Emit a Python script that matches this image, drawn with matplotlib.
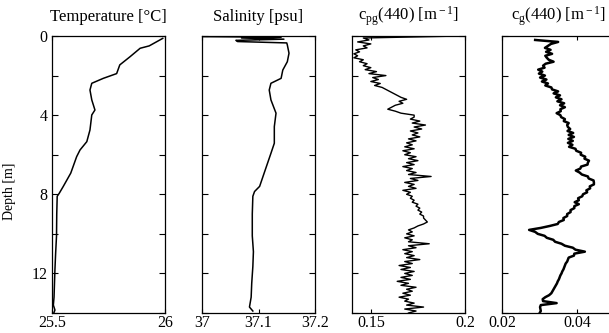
import numpy as np
import matplotlib.pyplot as plt

plt.rcParams['font.family'] = ['Liberation Serif', 'DejaVu Serif']
plt.rcParams['mathtext.fontset'] = 'custom'
plt.rcParams['mathtext.rm'] = 'Liberation Serif'
plt.rcParams['mathtext.it'] = 'Liberation Serif:italic'

# temperature profile
temp_depth = [0.12, 0.5, 0.62, 1.05, 1.46, 1.9, 2.14, 2.39, 2.73, 3.23, 3.74,
              3.99, 4.75, 5.34, 5.76, 6.1, 6.93, 7.6, 7.95, 8.1, 9.0, 10.1,
              11.0, 11.8, 12.5, 13.2, 13.6, 13.85, 14.0]
temp = [25.99, 25.93, 25.89, 25.845, 25.80, 25.786, 25.727, 25.676, 25.668,
        25.676, 25.69, 25.676, 25.668, 25.654, 25.624, 25.609, 25.583, 25.55,
        25.532, 25.523, 25.521, 25.52, 25.516, 25.513, 25.511, 25.509, 25.506,
        25.513, 25.508]

# salinity profile
sal_depth = [0.03, 0.06, 0.1, 0.16, 0.22, 0.28, 0.35, 0.45, 0.87, 1.3, 1.72,
             2.14, 2.39, 2.73, 3.23, 3.9, 4.58, 5.42, 5.93, 6.43, 6.93, 7.6,
             7.86, 8.1, 9.0, 10.1, 10.9, 11.65, 12.5, 13.2, 13.7, 13.9]
sal = [37.0, 37.14, 37.07, 37.145, 37.06, 37.063, 37.15, 37.151, 37.154,
       37.151, 37.143, 37.14, 37.122, 37.119, 37.122, 37.131, 37.128, 37.128,
       37.122, 37.116, 37.11, 37.102, 37.093, 37.09, 37.089, 37.089, 37.091,
       37.09, 37.088, 37.087, 37.084, 37.09]

# c_pg(440), every 0.1 m from 0 to 14 m
cpg_depth = np.round(np.arange(0, 141) * 0.1, 1)
cpg = [0.198, 0.146, 0.149, 0.143, 0.150, 0.146, 0.148, 0.142, 0.144, 0.141,
       0.143, 0.141, 0.146, 0.144, 0.148, 0.146, 0.150, 0.147, 0.153, 0.149,
       0.158, 0.151, 0.154, 0.150, 0.155, 0.152, 0.156, 0.158, 0.160, 0.162,
       0.164, 0.166, 0.169, 0.165, 0.167, 0.163, 0.161, 0.159, 0.163, 0.166,
       0.173, 0.173, 0.171, 0.176, 0.172, 0.179, 0.173, 0.177, 0.171, 0.175,
       0.172, 0.176, 0.170, 0.174, 0.169, 0.172, 0.168, 0.173, 0.167, 0.171,
       0.168, 0.174, 0.170, 0.175, 0.169, 0.173, 0.167, 0.172, 0.169, 0.174,
       0.170, 0.182, 0.171, 0.175, 0.168, 0.173, 0.170, 0.174, 0.167, 0.171,
       0.169, 0.172, 0.171, 0.173, 0.172, 0.175, 0.174, 0.176, 0.175, 0.177,
       0.176, 0.178, 0.178, 0.179, 0.180, 0.178, 0.175, 0.173, 0.170, 0.172,
       0.169, 0.173, 0.168, 0.172, 0.170, 0.181, 0.170, 0.174, 0.167, 0.172,
       0.168, 0.173, 0.169, 0.176, 0.168, 0.172, 0.165, 0.171, 0.166, 0.173,
       0.168, 0.172, 0.166, 0.171, 0.164, 0.170, 0.166, 0.174, 0.169, 0.172,
       0.167, 0.171, 0.165, 0.170, 0.168, 0.173, 0.169, 0.178, 0.168, 0.174,
       0.170]

# c_g(440), every 0.1 m from 0.2 to 14 m
cg_depth = np.round(np.arange(2, 141) * 0.1, 1)
cg = [0.0288, 0.0349, 0.0330, 0.0322, 0.0314, 0.0329, 0.0317, 0.0333, 0.0315,
      0.0319, 0.0324, 0.0337, 0.0316, 0.0309, 0.0313, 0.0296, 0.0307, 0.0298,
      0.0314, 0.0301, 0.0318, 0.0306, 0.0322, 0.0315, 0.0331, 0.0333, 0.0349,
      0.0337, 0.0354, 0.0343, 0.0358, 0.0347, 0.0365, 0.0354, 0.0367, 0.0355,
      0.0356, 0.0345, 0.0355, 0.0357, 0.0367, 0.0364, 0.0377, 0.0373, 0.0375,
      0.0381, 0.0374, 0.0389, 0.0377, 0.0391, 0.0376, 0.0388, 0.0375, 0.0387,
      0.0378, 0.0395, 0.0397, 0.0410, 0.0409, 0.0421, 0.0419, 0.0431, 0.0428,
      0.0427, 0.0410, 0.0408, 0.0396, 0.0406, 0.0412, 0.0428, 0.0430, 0.0443,
      0.0444, 0.0444, 0.0433, 0.0434, 0.0424, 0.0426, 0.0415, 0.0413, 0.0402,
      0.0404, 0.0393, 0.0404, 0.0392, 0.0392, 0.0382, 0.0382, 0.0373, 0.0373,
      0.0363, 0.0364, 0.0351, 0.0348, 0.0327, 0.0303, 0.0272, 0.0288, 0.0295,
      0.0313, 0.0319, 0.0336, 0.0341, 0.0358, 0.0367, 0.0388, 0.0395, 0.0420,
      0.0392, 0.0391, 0.0377, 0.0375, 0.0373, 0.0369, 0.0367, 0.0365, 0.0363,
      0.0360, 0.0358, 0.0355, 0.0353, 0.0351, 0.0348, 0.0346, 0.0343, 0.0340,
      0.0337, 0.0334, 0.0331, 0.0325, 0.0315, 0.0308, 0.0309, 0.0345, 0.0303,
      0.0301, 0.0302, 0.0303, 0.0300]

titles = ['Temperature [°C]', 'Salinity [psu]',
          r'c$_{\rm pg}$(440) [m$^{\rm -1}$]', r'c$_{\rm g}$(440) [m$^{\rm -1}$]']
xlims = [(25.5, 26), (37, 37.2), (0.14, 0.2), (0.02, 0.05)]
xticks = [[25.5, 26], [37, 37.1, 37.2], [0.15, 0.2], [0.02, 0.04]]
xticklabels = [['25.5', '26'], ['37', '37.1', '37.2'], ['0.15', '0.2'], ['0.02', '0.04']]
profiles = [(temp, temp_depth, 1.1), (sal, sal_depth, 1.1),
            (cpg, cpg_depth, 1.0), (cg, cg_depth, 1.8)]

W, H = 609, 333
lefts = [52, 202, 352, 502]
width = 113
top, bottom = 36, 313

fig = plt.figure(figsize=(W / 100, H / 100), dpi=100)
for i in range(4):
    ax = fig.add_axes([lefts[i] / W, 1 - bottom / H, width / W, (bottom - top) / H])
    x, d, lw = profiles[i]
    ax.plot(x, d, color='black', lw=lw)
    ax.set_xlim(*xlims[i])
    ax.set_ylim(14, 0)
    ax.set_yticks(np.arange(0, 15, 2))
    if i == 0:
        ax.set_yticklabels(['0', '', '4', '', '8', '', '12', ''])
        ax.set_ylabel('Depth [m]', fontsize=10)
        ax.yaxis.set_label_coords(-0.32, 0.44)
    else:
        ax.set_yticklabels([])
    ax.set_xticks(xticks[i])
    ax.set_xticklabels(xticklabels[i])
    ax.tick_params(axis='y', direction='in', left=True, right=True, length=4.5, width=0.8,
                   labelsize=11.5, pad=3)
    ax.tick_params(axis='x', direction='in', top=True, bottom=True, length=3, width=0.8,
                   labelsize=11.5, pad=1.5)
    for s in ax.spines.values():
        s.set_linewidth(0.9)
    ax.set_title(titles[i], fontsize=12, pad=11)

fig.savefig('out.png', dpi=100)
